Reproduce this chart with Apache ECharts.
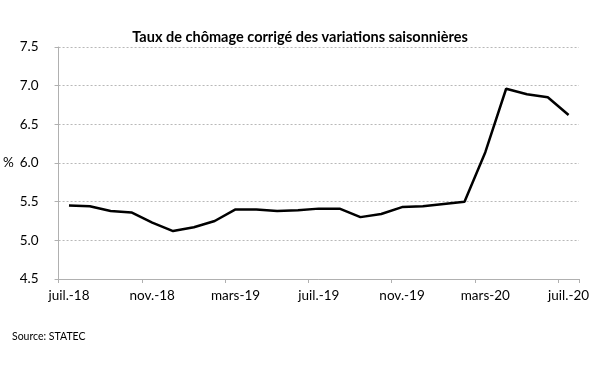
<!DOCTYPE html>
<html>
<head>
<meta charset="utf-8">
<script src="https://cdn.jsdelivr.net/npm/echarts@6/dist/echarts.min.js"></script>
<style>html,body{margin:0;padding:0;background:#fff}#c{width:600px;height:365px}</style>
</head>
<body>
<div id="c"></div>
<script>
var categories = ['juil.-18','août-18','sept.-18','oct.-18','nov.-18','déc.-18','janv.-19','févr.-19','mars-19','avr.-19','mai-19','juin-19','juil.-19','août-19','sept.-19','oct.-19','nov.-19','déc.-19','janv.-20','févr.-20','mars-20','avr.-20','mai-20','juin-20','juil.-20'];
var values = [5.45,5.44,5.38,5.36,5.23,5.12,5.17,5.25,5.40,5.40,5.38,5.39,5.41,5.41,5.30,5.34,5.43,5.44,5.47,5.50,6.14,6.96,6.89,6.85,6.62];
var yTicks = [4.5,5.0,5.5,6.0,6.5,7.0,7.5];
var titleText = 'Taux de chômage corrigé des variations saisonnières';
var sourceText = 'Source: STATEC';

var chart = echarts.init(document.getElementById('c'), null, {renderer:'canvas'});
chart.setOption({
  animation:false,
  backgroundColor:'#fff',
  title:{text:titleText,left:'center',top:25,textStyle:{fontFamily:'Lato',fontWeight:'bold',fontSize:14.5,color:'#000'}},
  graphic:[{type:'text',left:12,top:331,style:{text:sourceText,font:'10.5px Lato',fill:'#000'}}],
  grid:{left:51,right:21,top:47,bottom:86,containLabel:false},
  xAxis:{type:'category',data:categories,boundaryGap:true,
    axisLine:{lineStyle:{color:'#b0b0b0',width:1}},
    axisTick:{show:true,interval:3,length:4,lineStyle:{color:'#b0b0b0'}},
    axisLabel:{interval:3,color:'#000',fontFamily:'Lato',fontSize:13.5,margin:10},
    splitLine:{show:false}},
  yAxis:{type:'value',min:yTicks[0],max:yTicks[yTicks.length-1],interval:0.5,
    name:'%',nameLocation:'middle',nameRotate:0,nameGap:33,
    nameTextStyle:{color:'#000',fontFamily:'Lato',fontSize:13.5},
    axisLine:{show:true,lineStyle:{color:'#b0b0b0',width:1}},
    axisTick:{show:true,length:4,lineStyle:{color:'#b0b0b0'}},
    axisLabel:{color:'#000',fontFamily:'Lato',fontSize:13.5,margin:20,formatter:function(v){return v.toFixed(1);}},
    splitLine:{show:true,lineStyle:{color:'#b8b8b8',type:[2,2],width:1}}},
  series:[{type:'line',data:values,symbol:'none',lineStyle:{color:'#000',width:2.5},z:3}]
});
</script>
</body>
</html>
